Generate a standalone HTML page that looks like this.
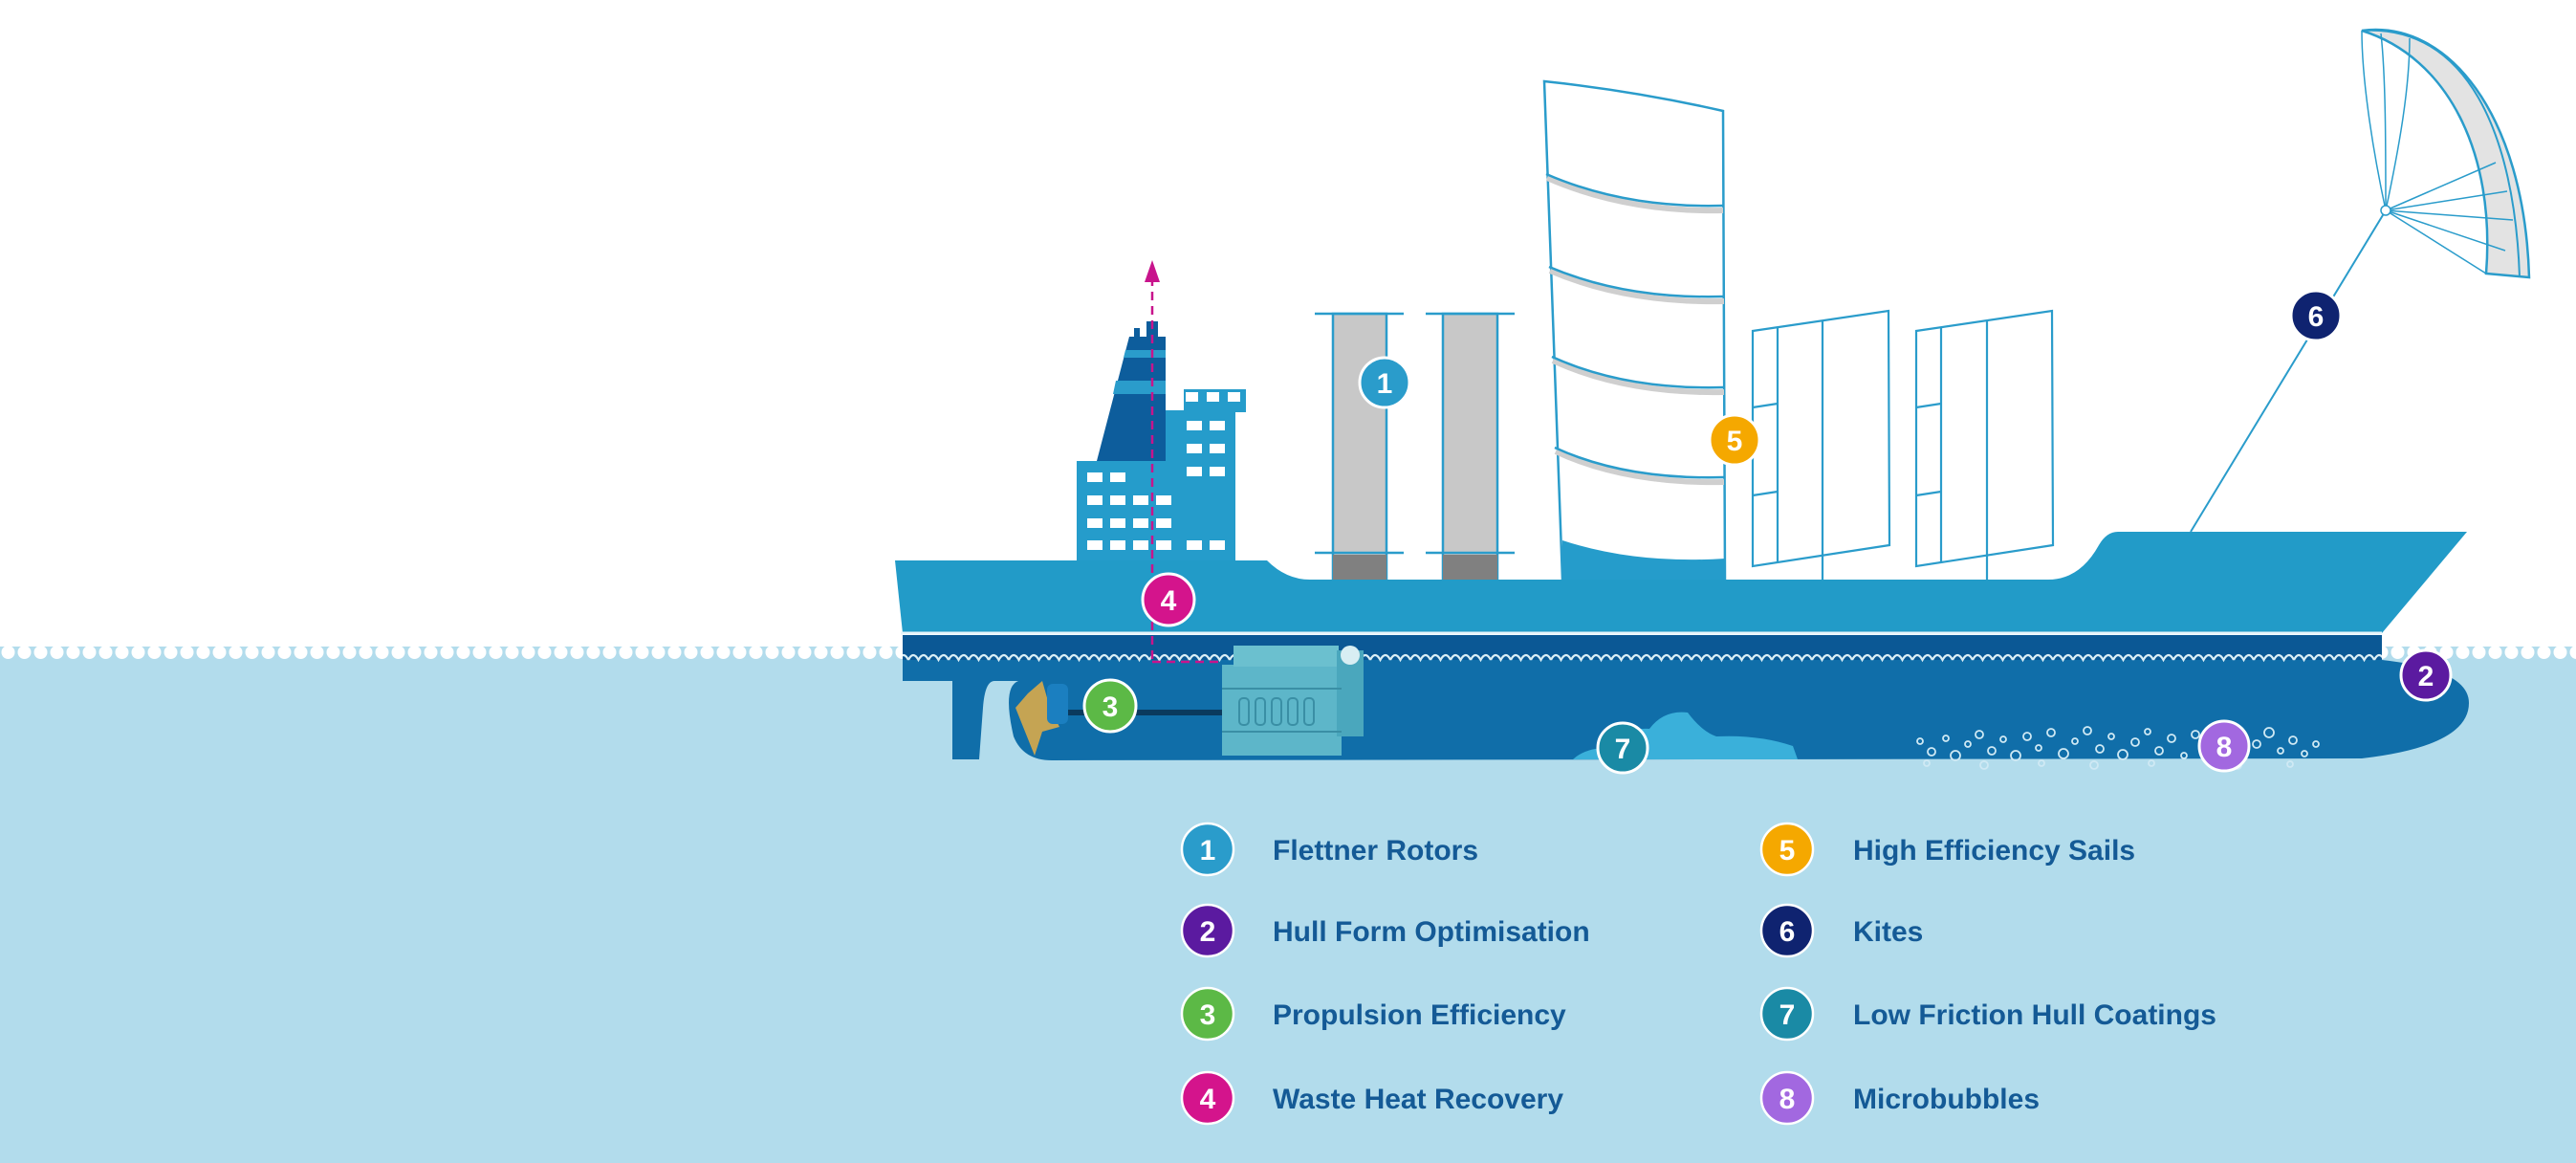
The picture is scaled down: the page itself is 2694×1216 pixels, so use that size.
<!DOCTYPE html>
<html><head><meta charset="utf-8"><style>
html,body{margin:0;padding:0;background:#fff;}
svg{display:block;}
text{font-family:"Liberation Sans",sans-serif;font-weight:bold;}
</style></head><body>
<svg width="2694" height="1216" viewBox="0 0 2694 1216" xmlns="http://www.w3.org/2000/svg">
<defs>
<pattern id="scal" x="0" y="676" width="17" height="20" patternUnits="userSpaceOnUse">
<rect width="17" height="20" fill="#b2dcec"/>
<circle cx="8.5" cy="6" r="7" fill="#fff"/>
</pattern>
<pattern id="wv" x="950" y="678" width="21" height="16" patternUnits="userSpaceOnUse">
<path d="M0,12 Q5,2 10.5,12 Q16,2 21,12" fill="none" stroke="#dbeef6" stroke-width="2.2"/>
</pattern>
</defs>
<!-- water -->
<rect x="0" y="682" width="2694" height="534" fill="#b2dcec"/>
<rect x="0" y="676" width="2694" height="14" fill="url(#scal)"/>

<!-- kite line -->
<line x1="2291" y1="556" x2="2495" y2="220" stroke="#2a9ccb" stroke-width="2"/>
<!-- kite -->
<path d="M2470,32 C2560,20 2640,120 2645,290 L2600,286 C2610,160 2560,60 2470,32 Z" fill="#e3e3e3" stroke="#2a9ccb" stroke-width="2.5"/>
<path d="M2470,32 C2580,25 2630,140 2635,290" fill="none" stroke="#2a9ccb" stroke-width="2"/>
<g stroke="#2a9ccb" stroke-width="1.5" fill="none">
<path d="M2495,220 C2480,150 2470,80 2470,32"/>
<path d="M2495,220 C2495,150 2495,80 2490,35"/>
<path d="M2495,220 C2510,150 2520,90 2520,40"/>
<line x1="2495" y1="220" x2="2622" y2="200"/>
<line x1="2495" y1="220" x2="2628" y2="230"/>
<line x1="2495" y1="220" x2="2620" y2="262"/>
<line x1="2495" y1="220" x2="2600" y2="286"/>
<line x1="2495" y1="220" x2="2610" y2="170"/>
</g>
<circle cx="2495" cy="220" r="5" fill="#fff" stroke="#2a9ccb" stroke-width="1.5"/>

<!-- superstructure -->
<rect x="1126" y="482" width="166" height="104" fill="#259ccb"/>
<rect x="1219" y="429" width="73" height="60" fill="#259ccb"/>
<rect x="1238" y="407" width="65" height="24" fill="#259ccb"/>
<!-- funnel -->
<path d="M1147,482 L1181,352 L1219,352 L1219,482 Z" fill="#0d5d9c"/>
<rect x="1186" y="343" width="6" height="10" fill="#0d5d9c"/>
<rect x="1199" y="336" width="12" height="17" fill="#0d5d9c"/>
<path d="M1177,366 L1219,366 L1219,374 L1175,374 Z" fill="#2a9ccb"/>
<path d="M1167,398 L1219,398 L1219,412 L1164,412 Z" fill="#2a9ccb"/>
<g fill="#fff">
<rect x="1240" y="410" width="13" height="10"/><rect x="1262" y="410" width="13" height="10"/><rect x="1284" y="410" width="13" height="10"/>
<rect x="1241" y="440" width="16" height="10"/><rect x="1265" y="440" width="16" height="10"/>
<rect x="1241" y="464" width="16" height="10"/><rect x="1265" y="464" width="16" height="10"/>
<rect x="1241" y="488" width="16" height="10"/><rect x="1265" y="488" width="16" height="10"/>
<rect x="1241" y="565" width="16" height="10"/><rect x="1265" y="565" width="16" height="10"/>
<rect x="1137" y="494" width="16" height="10"/><rect x="1161" y="494" width="16" height="10"/>
<rect x="1137" y="518" width="16" height="10"/><rect x="1161" y="518" width="16" height="10"/><rect x="1185" y="518" width="16" height="10"/><rect x="1209" y="518" width="16" height="10"/>
<rect x="1137" y="542" width="16" height="10"/><rect x="1161" y="542" width="16" height="10"/><rect x="1185" y="542" width="16" height="10"/><rect x="1209" y="542" width="16" height="10"/>
<rect x="1137" y="565" width="16" height="10"/><rect x="1161" y="565" width="16" height="10"/><rect x="1185" y="565" width="16" height="10"/><rect x="1209" y="565" width="16" height="10"/>
</g>

<!-- rotors -->
<g stroke="#2a9ccb" stroke-width="2.5">
<rect x="1394" y="328" width="56" height="278" fill="#c8c8c8"/>
<rect x="1394" y="580" width="56" height="26" fill="#808080" stroke="none"/>
<line x1="1375" y1="328" x2="1468" y2="328"/><line x1="1375" y1="578" x2="1468" y2="578"/>
<rect x="1509" y="328" width="57" height="278" fill="#c8c8c8"/>
<rect x="1509" y="580" width="57" height="26" fill="#808080" stroke="none"/>
<line x1="1491" y1="328" x2="1584" y2="328"/><line x1="1491" y1="578" x2="1584" y2="578"/>
</g>

<!-- wing sail -->
<path d="M1615,85 Q1710,95 1802,116 L1804,606 L1634,606 Z" fill="#fff" stroke="#2a9ccb" stroke-width="2.5"/>
<path d="M1634,565 Q1710,590 1804,584 L1804,606 L1634,606 Z" fill="#259ccb"/>
<g fill="none">
<path d="M1618,186 Q1700,222 1802,220" stroke="#cfcfcf" stroke-width="6"/>
<path d="M1621,283 Q1700,317 1803,315" stroke="#cfcfcf" stroke-width="6"/>
<path d="M1624,377 Q1700,412 1803,410" stroke="#cfcfcf" stroke-width="6"/>
<path d="M1627,472 Q1700,506 1803,504" stroke="#cfcfcf" stroke-width="6"/>
<path d="M1617,182 Q1700,218 1802,215" stroke="#2a9ccb" stroke-width="2.5"/>
<path d="M1620,279 Q1700,313 1803,310" stroke="#2a9ccb" stroke-width="2.5"/>
<path d="M1623,373 Q1700,408 1803,405" stroke="#2a9ccb" stroke-width="2.5"/>
<path d="M1626,468 Q1700,502 1803,499" stroke="#2a9ccb" stroke-width="2.5"/>
</g>

<!-- rigid sails -->
<g fill="none" stroke="#2a9ccb" stroke-width="2.2">
<path d="M1833,346 L1975,325 L1976,570 L1833,592 Z"/>
<line x1="1859" y1="342" x2="1859" y2="588"/>
<line x1="1906" y1="335" x2="1906" y2="608"/>
<line x1="1833" y1="426" x2="1859" y2="422"/><line x1="1833" y1="518" x2="1859" y2="514"/>
<path d="M2004,346 L2146,325 L2147,570 L2004,592 Z"/>
<line x1="2030" y1="342" x2="2030" y2="588"/>
<line x1="2078" y1="335" x2="2078" y2="608"/>
<line x1="2004" y1="426" x2="2030" y2="422"/><line x1="2004" y1="518" x2="2030" y2="514"/>
</g>

<!-- upper hull -->
<path d="M936,586 L1325,586 Q1345,606 1370,606 L2142,606 Q2175,606 2195,570 Q2203,556 2215,556 L2580,556 L2491,662 L944,662 Z" fill="#229bc8"/>
<line x1="942" y1="662" x2="2491" y2="662" stroke="#e8f5fb" stroke-width="3"/>
<!-- lower hull -->
<path d="M944,664 L2491,664 L2491,690 Q2582,700 2582,735 Q2582,780 2470,793 L1100,795 Q1070,795 1060,770 Q1048,718 1065,712 L1040,712 Q1030,712 1028,740 L1024,794 L996,794 L996,712 L944,712 Z" fill="#106ea9"/>
<rect x="944" y="664" width="1547" height="26" fill="#0b5895"/>
<rect x="944" y="678" width="1547" height="16" fill="url(#wv)"/>
<!-- fouling -->
<path d="M1645,794 Q1660,780 1690,782 Q1700,760 1725,762 Q1740,742 1765,745 Q1780,765 1795,770 Q1840,768 1875,780 L1880,794 Z" fill="#3ab0da"/>
<!-- bubbles -->
<g fill="none" stroke="#cfe9f4" stroke-width="1.8">
<circle cx="2008" cy="775" r="3"/><circle cx="2020" cy="786" r="4"/><circle cx="2035" cy="772" r="3"/><circle cx="2045" cy="790" r="5"/><circle cx="2058" cy="778" r="3"/>
<circle cx="2070" cy="768" r="4"/><circle cx="2083" cy="785" r="4"/><circle cx="2095" cy="773" r="3"/><circle cx="2108" cy="790" r="5"/><circle cx="2120" cy="770" r="4"/>
<circle cx="2132" cy="782" r="3"/><circle cx="2145" cy="766" r="4"/><circle cx="2158" cy="788" r="5"/><circle cx="2170" cy="775" r="3"/><circle cx="2183" cy="764" r="4"/>
<circle cx="2196" cy="783" r="4"/><circle cx="2208" cy="770" r="3"/><circle cx="2220" cy="789" r="5"/><circle cx="2233" cy="776" r="4"/><circle cx="2246" cy="765" r="3"/>
<circle cx="2258" cy="785" r="4"/><circle cx="2271" cy="772" r="4"/><circle cx="2284" cy="790" r="3"/><circle cx="2296" cy="768" r="4"/><circle cx="2306" cy="782" r="3"/>
<circle cx="2360" cy="778" r="4"/><circle cx="2373" cy="766" r="5"/><circle cx="2385" cy="785" r="3"/><circle cx="2398" cy="774" r="4"/><circle cx="2410" cy="788" r="3"/><circle cx="2422" cy="778" r="3"/>
<circle cx="2015" cy="798" r="3"/><circle cx="2075" cy="800" r="4"/><circle cx="2135" cy="798" r="3"/><circle cx="2190" cy="800" r="4"/><circle cx="2250" cy="798" r="3"/><circle cx="2340" cy="800" r="4"/><circle cx="2395" cy="799" r="3"/>
</g>
<!-- propeller -->
<path d="M1075,725 L1090,712 L1098,740 L1108,760 L1090,765 L1082,790 L1072,765 L1062,740 Z" fill="#c5a453"/>
<rect x="1095" y="715" width="22" height="42" rx="6" fill="#1b7fc0"/>
<line x1="1117" y1="745" x2="1280" y2="745" stroke="#0a3a5e" stroke-width="6"/>
<!-- engine -->
<g>
<rect x="1278" y="695" width="125" height="95" fill="#5db6c9"/>
<rect x="1290" y="675" width="110" height="22" fill="#6bc0cf"/>
<rect x="1398" y="680" width="28" height="90" fill="#4aa7bd"/>
<circle cx="1412" cy="685" r="10" fill="#d8eef3"/>
<g stroke="#3a8fa5" stroke-width="2" fill="none">
<line x1="1278" y1="720" x2="1403" y2="720"/><line x1="1278" y1="765" x2="1403" y2="765"/>
<rect x="1296" y="730" width="10" height="28" rx="4"/><rect x="1313" y="730" width="10" height="28" rx="4"/><rect x="1330" y="730" width="10" height="28" rx="4"/><rect x="1347" y="730" width="10" height="28" rx="4"/><rect x="1364" y="730" width="10" height="28" rx="4"/>
</g>
</g>
<!-- waste heat line -->
<g stroke="#c8148c" stroke-width="2.5" fill="none" stroke-dasharray="9,6">
<line x1="1205" y1="290" x2="1205" y2="692"/>
<line x1="1205" y1="692" x2="1280" y2="692"/>
</g>
<path d="M1197,295 L1205,272 L1213,295 Z" fill="#c8148c"/>

<!-- markers -->
<g stroke="#fff" stroke-width="3">
<circle cx="1448" cy="400" r="26" fill="#2a9ccb"/>
<circle cx="1222" cy="627" r="27" fill="#d4148c"/>
<circle cx="1161" cy="738" r="27" fill="#5cb946"/>
<circle cx="1814" cy="460" r="26" fill="#f5a800"/>
<circle cx="2422" cy="330" r="26" fill="#0f2370"/>
<circle cx="2537" cy="706" r="26" fill="#5b1aa0"/>
<circle cx="1697" cy="782" r="26" fill="#1a8aa5"/>
<circle cx="2326" cy="780" r="26" fill="#a268e0"/>
</g>
<g fill="#fff" font-size="30" text-anchor="middle">
<text x="1448" y="411">1</text><text x="1222" y="638">4</text><text x="1161" y="749">3</text>
<text x="1814" y="471">5</text><text x="2422" y="341">6</text><text x="2537" y="717">2</text>
<text x="1697" y="793">7</text><text x="2326" y="791">8</text>
</g>

<!-- legend -->
<g stroke="#fff" stroke-width="2.5">
<circle cx="1263" cy="888" r="27" fill="#2a9ccb"/>
<circle cx="1263" cy="973" r="27" fill="#5b1aa0"/>
<circle cx="1263" cy="1060" r="27" fill="#5cb946"/>
<circle cx="1263" cy="1148" r="27" fill="#d4148c"/>
<circle cx="1869" cy="888" r="27" fill="#f5a800"/>
<circle cx="1869" cy="973" r="27" fill="#0f2370"/>
<circle cx="1869" cy="1060" r="27" fill="#1a8aa5"/>
<circle cx="1869" cy="1148" r="27" fill="#a268e0"/>
</g>
<g fill="#fff" font-size="30" text-anchor="middle">
<text x="1263" y="899">1</text><text x="1263" y="984">2</text><text x="1263" y="1071">3</text><text x="1263" y="1159">4</text>
<text x="1869" y="899">5</text><text x="1869" y="984">6</text><text x="1869" y="1071">7</text><text x="1869" y="1159">8</text>
</g>
<g fill="#145a96" font-size="30">
<text x="1331" y="899">Flettner Rotors</text>
<text x="1331" y="984">Hull Form Optimisation</text>
<text x="1331" y="1071">Propulsion Efficiency</text>
<text x="1331" y="1159">Waste Heat Recovery</text>
<text x="1938" y="899">High Efficiency Sails</text>
<text x="1938" y="984">Kites</text>
<text x="1938" y="1071">Low Friction Hull Coatings</text>
<text x="1938" y="1159">Microbubbles</text>
</g>
</svg>
</body></html>
